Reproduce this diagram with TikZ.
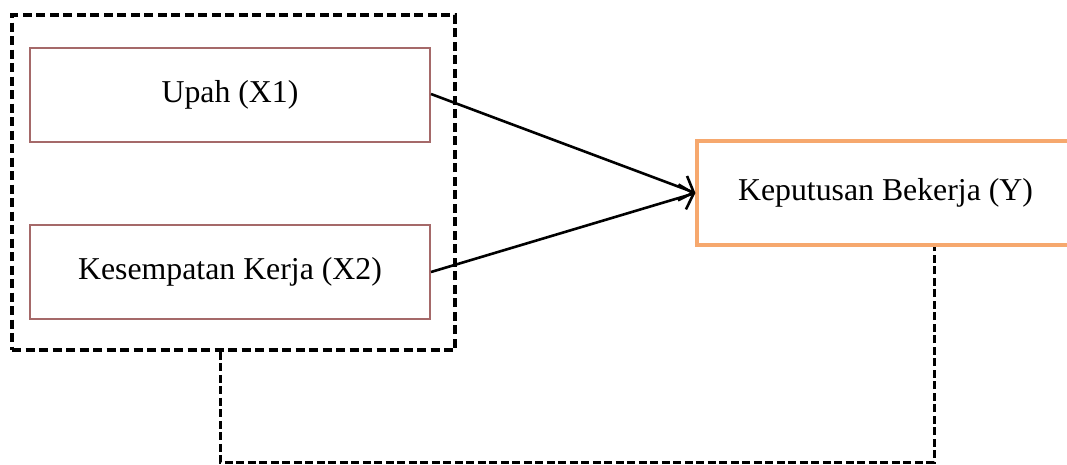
\documentclass[tikz,border=0pt]{standalone}
\usepackage{fontspec}
\setmainfont{Liberation Serif}
\usetikzlibrary{arrows.meta}
\definecolor{boxbrown}{RGB}{165,105,105}
\definecolor{boxorange}{RGB}{246,168,110}
\begin{document}
\begin{tikzpicture}[x=1pt,y=-1pt,
  varbox/.style={draw=boxbrown,line width=2pt,minimum width=400pt,minimum height=94pt,inner sep=0pt,font=\fontsize{31.8}{38}\selectfont},
  ybox/.style={draw=boxorange,line width=3.2pt,minimum width=377pt,minimum height=104pt,inner sep=0pt,font=\fontsize{31.8}{38}\selectfont},
  groupbox/.style={draw=black,line width=3.6pt,dash pattern=on 9pt off 4.5pt,minimum width=443pt,minimum height=335pt,inner sep=0pt},
  conn/.style={draw=black,line width=3pt,dash pattern=on 8pt off 3.5pt},
  arr/.style={draw=black,line width=2.6pt,-{Straight Barb[length=12pt,width=26pt,line width=2.6pt]}}]
\useasboundingbox (0,0) rectangle (1067,464);
\node[groupbox] (grp) at (233.5,182.5) {};
\node[varbox] (x1) at (230,95) {Upah (X1)};
\node[varbox] (x2) at (230,272) {Kesempatan Kerja (X2)};
\node[ybox] (y) at (885.5,193) {Keputusan Bekerja (Y)};
\coordinate (c1) at (220,462);
\coordinate (c2) at (934,462);
\draw[arr] (x1.east |- 0,94) -- (y.west);
\draw[arr] (x2.east) -- (y.west);
\draw[conn] (grp.south -| c1) -- (c1) -- (c2) -- (y.south -| c2);
\end{tikzpicture}
\end{document}
